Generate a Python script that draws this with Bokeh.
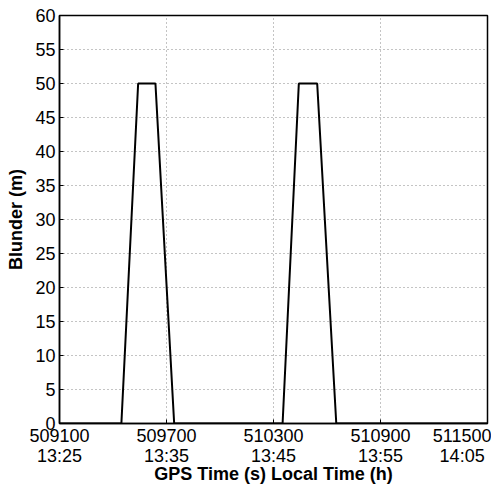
from bokeh.plotting import figure
from bokeh.embed import file_html
from bokeh.resources import INLINE
from bokeh.models import Range1d, FixedTicker

# Data
gps_time = [509100, 509447, 509541, 509638, 509743, 510351, 510442, 510545, 510652, 511500]
blunder = [0, 0, 50, 50, 0, 0, 50, 50, 0, 0]

x_ticks = [509100, 509700, 510300, 510900, 511500]
x_tick_labels = ["509100\n13:25", "509700\n13:35", "510300\n13:45", "510900\n13:55", "511500\n14:05"]
y_ticks = [0, 5, 10, 15, 20, 25, 30, 35, 40, 45, 50, 55, 60]

p = figure(width=491, height=487, output_backend="svg", toolbar_location=None,
           x_range=Range1d(509100, 511500), y_range=Range1d(0, 60),
           min_border_left=59, min_border_right=4, min_border_top=15, min_border_bottom=64)

p.line(gps_time, blunder, line_color="black", line_width=2)

p.xaxis.ticker = FixedTicker(ticks=x_ticks)
p.xaxis.major_label_overrides = {t: l for t, l in zip(x_ticks, x_tick_labels)}
p.yaxis.ticker = FixedTicker(ticks=y_ticks)

for ax in (p.xaxis[0], p.yaxis[0]):
    ax.major_label_text_font = "Liberation Sans"
    ax.major_label_text_font_size = "18px"
    ax.major_label_text_color = "black"
    ax.major_label_text_line_height = 1.0
    ax.axis_label_text_font = "Liberation Sans"
    ax.axis_label_text_font_size = "18px"
    ax.axis_label_text_font_style = "bold"
    ax.axis_label_text_color = "black"
    ax.axis_label_text_line_height = 1.0
    ax.axis_line_color = "black"
    ax.axis_line_width = 1.5
    ax.major_tick_in = 4
    ax.major_tick_out = 0
    ax.minor_tick_line_color = None
    ax.major_label_standoff = 4

p.xaxis.major_label_standoff = 2
p.xaxis.axis_label = "GPS Time (s) Local Time (h)"
p.xaxis.axis_label_standoff = -5
p.yaxis.axis_label = "Blunder (m)"
p.yaxis.axis_label_standoff = 6

p.grid.grid_line_color = "#888888"
p.grid.grid_line_dash = "1 3"
p.grid.grid_line_width = 1
p.outline_line_color = "black"
p.outline_line_width = 1.5
p.background_fill_color = "white"
p.border_fill_color = "white"

open("out.html", "w").write(file_html(p, INLINE))
